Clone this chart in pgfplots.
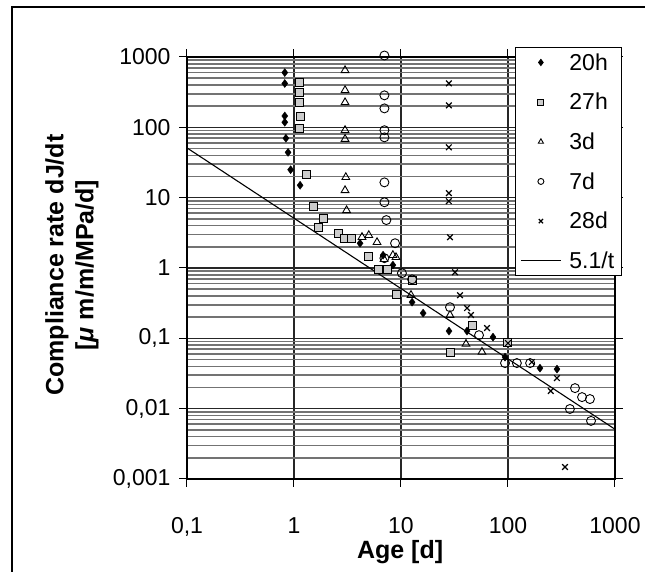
\documentclass[border=0pt]{standalone}
\usepackage{pgfplots}
\pgfplotsset{compat=1.18}
\usepackage{fontspec}
\setmainfont{Liberation Sans}

\begin{document}
\begin{tikzpicture}[x=1pt,y=1pt]
\useasboundingbox (0,0) rectangle (645,572);
\fill[white] (0,0) rectangle (645,572);
\draw[line width=2.5pt] (12,0) -- (12,565) -- (645,565);
\begin{axis}[
  at={(187pt,93pt)}, anchor=south west,
  scale only axis, width=428pt, height=422pt,
  xmode=log, ymode=log,
  xmin=0.1, xmax=1000, ymin=0.001, ymax=1000,
  clip=false,
  xtick={0.1,1,10,100,1000}, xticklabels={{0,1},1,10,100,1000},
  ytick={0.001,0.01,0.1,1,10,100,1000},
  yticklabels={{0,001},{0,01},{0,1},1,10,100,1000},
  xminorticks=false,
  minor ytick={0.002,0.003,0.004,0.005,0.006,0.007,0.008,0.009,
               0.02,0.03,0.04,0.05,0.06,0.07,0.08,0.09,
               0.2,0.3,0.4,0.5,0.6,0.7,0.8,0.9,
               2,3,4,5,6,7,8,9,
               20,30,40,50,60,70,80,90,
               200,300,400,500,600,700,800,900},
  tick align=outside, major tick length=8pt, minor tick length=0pt,
  tick style={black, line width=1pt},
  xmajorgrids=true, ymajorgrids=true, yminorgrids=true,
  major grid style={black!85, line width=1.2pt},
  minor grid style={black!55, line width=1.6pt},
  axis line style={black, line width=1.3pt},
  tick label style={font=\fontsize{23}{26}\selectfont},
  xticklabel style={yshift=-27pt},
  yticklabel style={xshift=-5pt},
  xlabel={Age [d]},
  ylabel={Compliance rate dJ/dt\\{[}\textit{μ} m/m/MPa/d{]}},
  xlabel style={font=\bfseries\fontsize{25}{30}\selectfont, at={(axis description cs:0.498,-0.173)}, anchor=center},
  ylabel style={font=\bfseries\fontsize{25}{30}\selectfont, align=center, at={(axis description cs:-0.2687,0.507)}, anchor=center},
  legend style={at={(0.766,1.024)}, anchor=north west, draw=black, line width=1pt,
    font=\fontsize{23}{26}\selectfont, row sep=17.5pt, inner xsep=5pt, inner ysep=4pt,
    cells={anchor=west},
    /tikz/every odd column/.append style={column sep=6pt}},
  legend image code/.code={\draw[mark repeat=2,mark phase=2, mark size=3pt] plot coordinates {(0pt,0pt)(20pt,0pt)(40pt,0pt)};},
]
\addplot[only marks, mark=diamond*, mark size=4pt, black, fill=black] coordinates {
(0.82,600)(0.82,420)(0.82,145)(0.82,118)(0.84,70)(0.88,44)(0.93,25)(1.14,15)
(4.14,2.25)(6.8,1.52)(8.4,1.10)(12.7,0.327)(16.1,0.228)(28.1,0.127)(41.4,0.127)
(72.4,0.104)(93.8,0.054)(199,0.0377)(287,0.0365)};
\addlegendentry{20h}
\addplot[only marks, mark=square*, mark size=4pt, black, line width=0.9pt, fill=black!20] coordinates {
(1.13,435)(1.13,314)(1.13,226)(1.15,143)(1.13,97)(1.32,21.5)(1.51,7.55)(1.87,5.1)
(1.68,3.8)(2.63,3.12)(2.93,2.65)(3.48,2.65)(5.0,1.47)(6.1,0.96)(7.4,0.96)(9.0,0.425)
(12.9,0.67)(28.7,0.064)(47,0.154)(98,0.088)};
\addlegendentry{27h}
\addplot[only marks, mark=triangle, mark size=4.5pt, black, line width=0.9pt] coordinates {
(3,646)(3,336)(3,226)(3,91)(3,68)(3.05,19.5)(3,12.7)(3.1,6.6)(4.32,2.74)(5.0,2.92)
(5.97,2.32)(6.94,1.33)(8.98,1.42)(8.4,1.52)(12.4,0.411)(28.7,0.214)(40.5,0.083)(57.1,0.064)};
\addlegendentry{3d}
\addplot[only marks, mark=o, mark size=4.5pt, black, line width=0.9pt] coordinates {
(7,1050)(7,285)(7,186)(7,91)(7,72)(7,16.5)(7,8.6)(7.3,4.8)(8.8,2.25)(7.0,1.38)
(10.2,0.844)(12.7,0.69)(28.7,0.277)(53.6,0.111)(93.8,0.0445)(121,0.0445)(161,0.0445)
(423,0.0196)(492,0.0146)(583,0.0137)(379,0.0099)(597,0.0067)};
\addlegendentry{7d}
\addplot[only marks, mark=x, mark size=4pt, black, line width=1.2pt] coordinates {
(28,422)(28,205)(28,52)(28,11.6)(28,8.9)(28.7,2.74)(32,0.87)(35.6,0.41)(41.4,0.269)
(45.1,0.214)(63.7,0.14)(100,0.0855)(167,0.046)(287,0.0272)(251,0.0178)(341,0.00148)};
\addlegendentry{28d}
\addplot[black, line width=1.1pt, mark=none] coordinates {(0.1,51)(1000,0.0051)};
\addlegendentry{5.1/t}
\end{axis}
\end{tikzpicture}
\end{document}
